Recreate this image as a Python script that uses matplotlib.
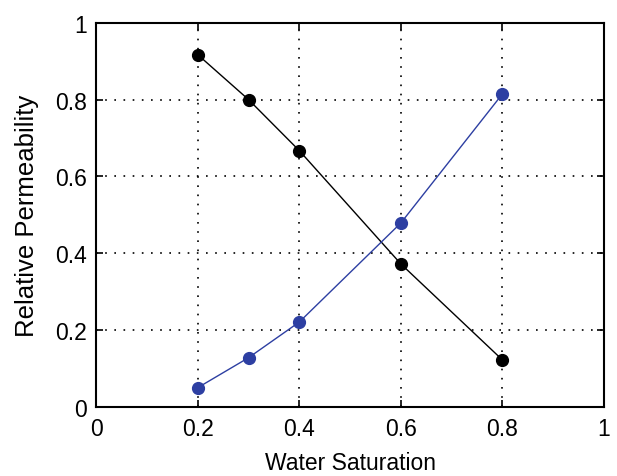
import matplotlib
matplotlib.use("Agg")
import matplotlib.pyplot as plt

# water saturation points and relative permeabilities
sw = [0.2, 0.3, 0.4, 0.6, 0.8]
kro = [0.917, 0.800, 0.667, 0.372, 0.122]   # black curve
krw = [0.050, 0.128, 0.221, 0.479, 0.815]   # blue curve
ticks = [0, 0.2, 0.4, 0.6, 0.8, 1]
tick_labels = ["0", "0.2", "0.4", "0.6", "0.8", "1"]

plt.rcParams["font.family"] = ["Liberation Sans", "DejaVu Sans"]

fig = plt.figure(figsize=(6.17, 4.77), dpi=100)
ax = fig.add_axes([0.156, 0.145, 0.823, 0.805])

ax.plot(sw, kro, color="black", lw=1.0, marker="o", ms=8.5, zorder=3)
ax.plot(sw, krw, color="#2d3fa2", lw=1.0, marker="o", ms=8.5, zorder=3)

ax.set_xlim(0, 1)
ax.set_ylim(0, 1)
ax.set_xticks(ticks)
ax.set_xticklabels(tick_labels)
ax.set_yticks(ticks)
ax.set_yticklabels(tick_labels)
ax.grid(True, color="black", linestyle=(0, (1, 4.5)), linewidth=1.2)
ax.tick_params(direction="in", top=True, right=True, length=5, width=1.2,
               labelsize=16.5, pad=7)
for s in ax.spines.values():
    s.set_linewidth(1.5)

ax.set_xlabel("Water Saturation", fontsize=16.5, labelpad=8)
ax.set_ylabel("Relative Permeability", fontsize=18.5, labelpad=11)

fig.savefig("out.png", dpi=100)
